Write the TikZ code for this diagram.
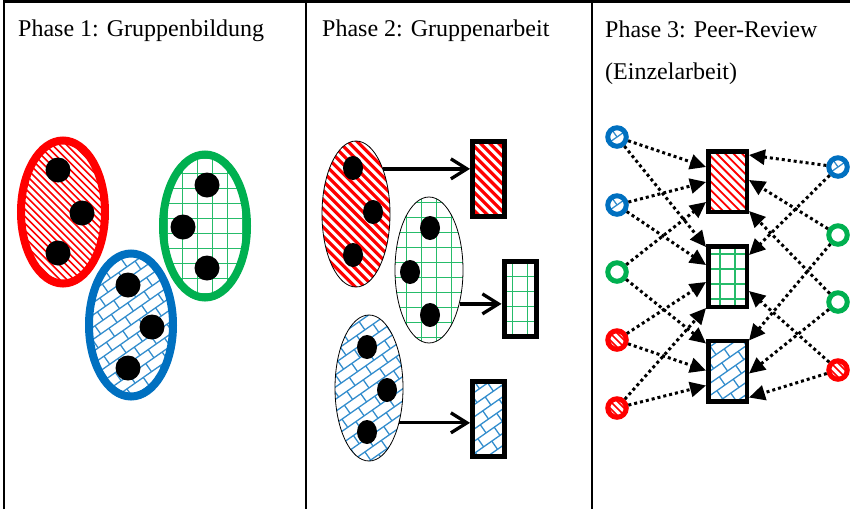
\documentclass[tikz,border=0pt]{standalone}
\usepackage{fontspec}
\setmainfont{Liberation Serif}
\usetikzlibrary{shapes.geometric,arrows.meta,calc}

\definecolor{cred}{RGB}{255,0,0}
\definecolor{cgreen}{RGB}{0,176,80}
\definecolor{cblue}{RGB}{0,112,192}

\tikzset{
  hatchA/.style={path picture={\draw[draw=cred, line width=1.6pt] (path picture bounding box.center)
     \foreach \k in {-30,...,30} {+({\k*3.5355pt-92pt},{\k*3.5355pt+92pt}) -- +({\k*3.5355pt+92pt},{\k*3.5355pt-92pt})};}},
  hatchB/.style={path picture={\draw[draw=cred, line width=3.2pt] (path picture bounding box.center)
     \foreach \k in {-25,...,25} {+({\k*4.596pt-92pt},{\k*4.596pt+92pt}) -- +({\k*4.596pt+92pt},{\k*4.596pt-92pt})};}},
  hatchC/.style={path picture={\draw[draw=cred, line width=1.8pt] (path picture bounding box.center)
     \foreach \k in {-25,...,25} {+({\k*4.2426pt-92pt},{\k*4.2426pt+92pt}) -- +({\k*4.2426pt+92pt},{\k*4.2426pt-92pt})};}},
  gridfill/.style={path picture={\draw[draw=cgreen!85, line width=1.7pt] (path picture bounding box.center)
     \foreach \k in {-9,...,9} {+({\k*15pt+7.5pt},-130pt) -- +({\k*15pt+7.5pt},130pt) +(-130pt,{\k*15pt+7.5pt}) -- +(130pt,{\k*15pt+7.5pt})};}},
  brickfill/.style={path picture={\draw[draw=cblue!80, line width=1.3pt] (path picture bounding box.center)
     \foreach \k in {-12,...,12} {+({-5.736pt*\k-106.5pt},{8.192pt*\k-74.57pt}) -- +({-5.736pt*\k+106.5pt},{8.192pt*\k+74.57pt})};
     \draw[draw=cblue!80, line width=1.3pt] (path picture bounding box.center)
     \foreach \k in {-12,...,12} {\foreach \m in {-7,...,7} {
        +({-5.736pt*\k+0.8192pt*(\m*20+mod(\k+100,2)*10)},{8.192pt*\k+0.5736pt*(\m*20+mod(\k+100,2)*10)})
        -- +({-5.736pt*(\k+1)+0.8192pt*(\m*20+mod(\k+100,2)*10)},{8.192pt*(\k+1)+0.5736pt*(\m*20+mod(\k+100,2)*10)})}};}},
  p1ell/.style={ellipse, line width=8pt, inner sep=0pt, minimum width=84pt, minimum height=143pt},
  dotA/.style={circle, fill=black, inner sep=0pt, minimum size=25pt},
  dotB/.style={ellipse, fill=black, inner sep=0pt, minimum width=20pt, minimum height=24pt},
  p2ell/.style={ellipse, draw=black, line width=0.8pt, inner sep=0pt, minimum width=68pt, minimum height=146pt},
  p2box/.style={rectangle, draw=black, line width=5pt, inner sep=0pt, minimum width=32pt, minimum height=75pt},
  p3box/.style={rectangle, draw=black, line width=4.5pt, inner sep=0pt, minimum width=38.5pt, minimum height=60.5pt},
  ring/.style={circle, line width=5pt, inner sep=0pt, minimum size=18.5pt},
  growarrow/.style={-{Straight Barb[length=16pt,width=20pt]}, line width=3.3pt},
  peer/.style={-{Triangle[length=16pt,width=15pt]}, line width=3pt, dash pattern=on 3pt off 3pt},
  ttl/.style={anchor=base west, inner sep=0pt, font=\fontsize{24pt}{28pt}\selectfont},
  frame/.style={line width=2.5pt}
}

\begin{document}
\begin{tikzpicture}[x=1pt,y=-1pt]
\useasboundingbox (0,0) rectangle (850,509);

% frame
\draw[frame] (4,509) -- (4,1.5) -- (850,1.5);
\draw[frame] (306,1.5) -- (306,509);
\draw[frame] (592,1.5) -- (592,509);

% titles
\node[ttl] (t1) at (18,36) {Phase 1: Gruppenbildung};
\node[ttl] (t2) at (322,36) {Phase 2: Gruppenarbeit};
\node[ttl] (t3) at (605,37.5) {Phase 3: Peer-Review};
\node[ttl] (t3b) at (605,79) {(Einzelarbeit)};

% Phase 1
\node[p1ell, draw=cred, hatchA] (e1r) at (63,212) {};
\node[p1ell, draw=cgreen, gridfill] (e1g) at (205,226) {};
\node[p1ell, draw=cblue, brickfill] (e1b) at (131,325) {};
\node[dotA] (d1) at (58,170) {};
\node[dotA] (d2) at (82,213) {};
\node[dotA] (d3) at (58,253) {};
\node[dotA] (d4) at (207,185) {};
\node[dotA] (d5) at (183,227) {};
\node[dotA] (d6) at (207,268) {};
\node[dotA] (d7) at (128,285) {};
\node[dotA] (d8) at (152,327) {};
\node[dotA] (d9) at (128,368) {};

% Phase 2
\node[p2ell, hatchB] (e2r) at (356,214) {};
\node[p2ell, gridfill] (e2g) at (429,270) {};
\node[p2ell, brickfill] (e2b) at (369,388) {};
\node[dotB] (f1) at (353,168) {};
\node[dotB] (f2) at (373,212) {};
\node[dotB] (f3) at (353,255) {};
\node[dotB] (f4) at (430,228) {};
\node[dotB] (f5) at (410,272) {};
\node[dotB] (f6) at (430,315) {};
\node[dotB] (f7) at (367,347) {};
\node[dotB] (f8) at (387,390) {};
\node[dotB] (f9) at (367,432) {};
\node[p2box, hatchB] (b2r) at (488.5,179) {};
\node[p2box, gridfill] (b2g) at (520,299) {};
\node[p2box, brickfill] (b2b) at (488.5,419) {};
\draw[growarrow] (e2r.59) -- (b2r.west |- e2r.59);
\draw[growarrow] (e2g.-48) -- (b2g.west |- e2g.-48);
\draw[growarrow] (e2b.-49) -- (b2b.west |- e2b.-49);

% Phase 3
\node[p3box, hatchC] (q3r) at (727.5,181.5) {};
\node[p3box, gridfill] (q3g) at (727.5,276.5) {};
\node[p3box, brickfill] (q3b) at (727.5,371) {};

\node[ring, draw=cblue, brickfill] (L1) at (617,137) {};
\node[ring, draw=cblue, brickfill] (L2) at (617,205) {};
\node[ring, draw=cgreen, gridfill] (L3) at (617,272) {};
\node[ring, draw=cred, hatchA] (L4) at (617,340) {};
\node[ring, draw=cred, hatchA] (L5) at (617,408) {};
\node[ring, draw=cblue, brickfill] (R1) at (838,167) {};
\node[ring, draw=cgreen, gridfill] (R2) at (838,235) {};
\node[ring, draw=cgreen, gridfill] (R3) at (838,302) {};
\node[ring, draw=cred, hatchA] (R4) at (838,370) {};

\draw[peer] (L1) -- ($(q3r.north west)+(0,18)$);
\draw[peer] (L1) -- ($(q3g.north west)+(0,3)$);
\draw[peer] (L2) -- ($(q3r.north west)+(0,33)$);
\draw[peer] (L2) -- ($(q3g.north west)+(0,21)$);
\draw[peer] (L3) -- ($(q3r.north west)+(0,53)$);
\draw[peer] (L3) -- ($(q3b.north west)+(0,5)$);
\draw[peer] (L4) -- ($(q3g.north west)+(0,38)$);
\draw[peer] (L4) -- ($(q3b.north west)+(0,32)$);
\draw[peer] (L5) -- ($(q3g.north west)+(0,64)$);
\draw[peer] (L5) -- ($(q3b.north west)+(0,47)$);

\draw[peer] (R1) -- ($(q3r.north east)+(0,6)$);
\draw[peer] (R1) -- ($(q3g.north east)+(0,11)$);
\draw[peer] (R2) -- ($(q3r.north east)+(0,31)$);
\draw[peer] (R2) -- ($(q3b.north east)+(0,2)$);
\draw[peer] (R3) -- ($(q3r.north east)+(0,62)$);
\draw[peer] (R3) -- ($(q3b.north east)+(0,35)$);
\draw[peer] (R4) -- ($(q3g.north east)+(0,47)$);
\draw[peer] (R4) -- ($(q3b.north east)+(0,59)$);
\end{tikzpicture}
\end{document}
